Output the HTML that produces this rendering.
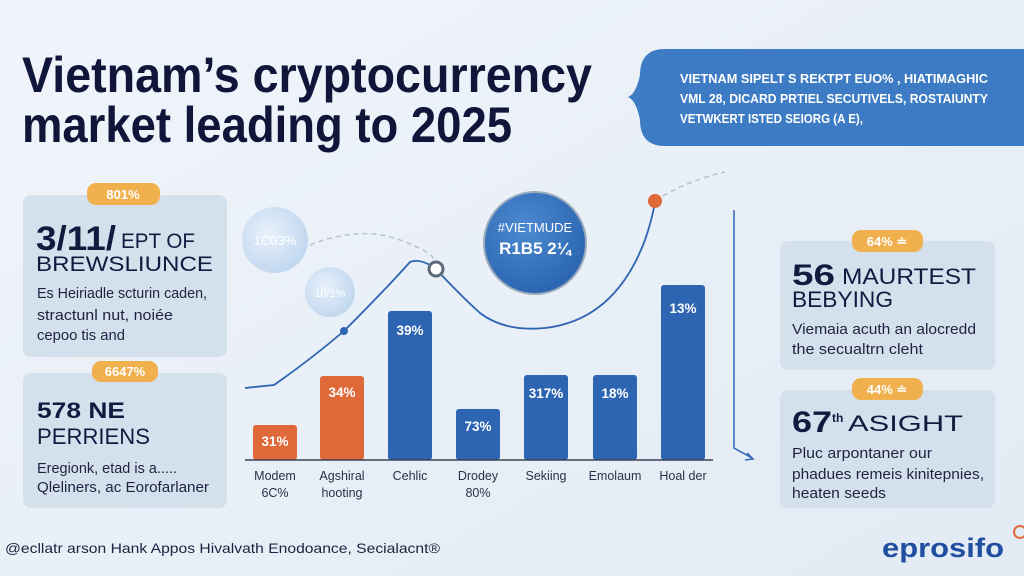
<!DOCTYPE html>
<html><head><meta charset="utf-8"><style>
html,body{margin:0;padding:0;width:1024px;height:576px;overflow:hidden;background:#e9f0f8}
svg{display:block}
text{font-family:"Liberation Sans",sans-serif}
</style></head><body>
<svg width="1024" height="576" viewBox="0 0 1024 576" xmlns="http://www.w3.org/2000/svg">
<defs>
<linearGradient id="bg" x1="0" y1="0" x2="1" y2="1"><stop offset="0" stop-color="#f1f5fb"/><stop offset="1" stop-color="#e2eaf4"/></linearGradient>
<radialGradient id="bub" cx="0.4" cy="0.4" r="0.7"><stop offset="0" stop-color="#e8f1fb"/><stop offset="1" stop-color="#bcd4ee"/></radialGradient>
<radialGradient id="bc" cx="0.4" cy="0.35" r="0.7"><stop offset="0" stop-color="#4d8ad0"/><stop offset="1" stop-color="#2a64b0"/></radialGradient>
</defs>
<rect width="1024" height="576" fill="url(#bg)"/>
<!-- Title -->
<text x="22" y="92" font-size="50" font-weight="bold" fill="#10163a" textLength="570" lengthAdjust="spacingAndGlyphs">Vietnam’s cryptocurrency</text>
<text x="22" y="142" font-size="50" font-weight="bold" fill="#10163a" textLength="490" lengthAdjust="spacingAndGlyphs">market leading to 2025</text>
<!-- Banner -->
<path d="M665 49 H1024 V146 H665 Q640 146 640 120 Q636 100 628 97 Q636 94 640 75 Q640 49 665 49 Z" fill="#3d7cc4"/>
<g font-size="12.5" font-weight="bold" fill="#fff">
<text x="680" y="83" textLength="308" lengthAdjust="spacingAndGlyphs">VIETNAM  SIPELT S REKTPT EUO% , HIATIMAGHIC</text>
<text x="680" y="103" textLength="308" lengthAdjust="spacingAndGlyphs">VML 28, DICARD  PRTIEL SECUTIVELS, ROSTAIUNTY</text>
<text x="680" y="123" textLength="183" lengthAdjust="spacingAndGlyphs">VETWKERT ISTED SEIORG (A E),</text>
</g>
<!-- Left card 1 -->
<rect x="23" y="195" width="204" height="162" rx="8" fill="#d5e0ed"/>
<rect x="87" y="183" width="73" height="22" rx="9" fill="#f0b04e"/>
<text x="123" y="199" font-size="13" font-weight="bold" fill="#fff" text-anchor="middle">801%</text>
<text x="36" y="250" font-size="34" font-weight="bold" fill="#131a40" textLength="80" lengthAdjust="spacingAndGlyphs">3/11/</text>
<text x="121" y="248" font-size="21" fill="#131a40" textLength="74" lengthAdjust="spacingAndGlyphs">EPT OF</text>
<text x="36" y="271" font-size="21" fill="#131a40" textLength="177" lengthAdjust="spacingAndGlyphs">BREWSLIUNCE</text>
<g font-size="14.5" fill="#1d2340">
<text x="37" y="298" textLength="170" lengthAdjust="spacingAndGlyphs">Es Heiriadle scturin caden,</text>
<text x="37" y="320" textLength="136" lengthAdjust="spacingAndGlyphs">stractunl nut, noiée</text>
<text x="37" y="340" textLength="88" lengthAdjust="spacingAndGlyphs">cepoo tis and</text>
</g>
<!-- Left card 2 -->
<rect x="23" y="373" width="204" height="135" rx="8" fill="#d5e0ed"/>
<rect x="92" y="361" width="66" height="21" rx="9" fill="#f0b04e"/>
<text x="125" y="376" font-size="13" font-weight="bold" fill="#fff" text-anchor="middle">6647%</text>
<text x="37" y="418" font-size="22" font-weight="bold" fill="#131a40" textLength="88" lengthAdjust="spacingAndGlyphs">578 NE</text>
<text x="37" y="444" font-size="22" fill="#131a40" textLength="113" lengthAdjust="spacingAndGlyphs">PERRIENS</text>
<g font-size="14.5" fill="#1d2340">
<text x="37" y="473" textLength="140" lengthAdjust="spacingAndGlyphs">Eregionk, etad is a.....</text>
<text x="37" y="492" textLength="172" lengthAdjust="spacingAndGlyphs">Qleliners, ac Eorofarlaner</text>
</g>
<!-- bubbles -->
<circle cx="275" cy="240" r="33" fill="url(#bub)"/>
<text x="275" y="245" font-size="13" fill="#fff" text-anchor="middle">1C03%</text>
<circle cx="330" cy="292" r="25" fill="url(#bub)"/>
<text x="330" y="297" font-size="11" fill="#fff" text-anchor="middle">10/1%</text>
<path d="M310 245 Q360 225 400 240 T432 262" fill="none" stroke="#b5c3d4" stroke-width="1.5" stroke-dasharray="5 4"/>
<!-- big circle -->
<circle cx="535" cy="243" r="52" fill="#9aa9bb"/>
<circle cx="535" cy="243" r="50" fill="url(#bc)"/>
<text x="535" y="232" font-size="13" fill="#fff" text-anchor="middle">#VIETMUDE</text>
<text x="535" y="254" font-size="17" font-weight="bold" fill="#fff" text-anchor="middle">R1B5 2¼</text>
<!-- bars -->
<g>
<rect x="253" y="425" width="44" height="35" rx="3" fill="#e0693a"/>
<rect x="320" y="376" width="44" height="84" rx="3" fill="#e0693a"/>
<rect x="388" y="311" width="44" height="149" rx="3" fill="#2e65b3"/>
<rect x="456" y="409" width="44" height="51" rx="3" fill="#2e65b3"/>
<rect x="524" y="375" width="44" height="85" rx="3" fill="#2e65b3"/>
<rect x="593" y="375" width="44" height="85" rx="3" fill="#2e65b3"/>
<rect x="661" y="285" width="44" height="175" rx="3" fill="#2e65b3"/>
</g>
<g font-size="13.5" font-weight="bold" fill="#fff" text-anchor="middle">
<text x="275" y="446">31%</text><text x="342" y="397">34%</text><text x="410" y="335">39%</text>
<text x="478" y="431">73%</text><text x="546" y="398">317%</text><text x="615" y="398">18%</text><text x="683" y="313">13%</text>
</g>
<line x1="245" y1="460" x2="713" y2="460" stroke="#3a4252" stroke-width="1.5"/>
<g font-size="12.5" fill="#2a3048" text-anchor="middle">
<text x="275" y="480">Modem</text><text x="275" y="497">6C%</text>
<text x="342" y="480">Agshiral</text><text x="342" y="497">hooting</text>
<text x="410" y="480">Cehlic</text>
<text x="478" y="480">Drodey</text><text x="478" y="497">80%</text>
<text x="546" y="480">Sekiing</text>
<text x="615" y="480">Emolaum</text>
<text x="683" y="480">Hoal der</text>
</g>
<!-- line -->
<path d="M245 388 L274 385 Q310 360 344 331 Q385 290 410 262 Q420 258 435 268 Q460 295 480 313 Q505 332 545 328 Q615 320 645 240 Q652 220 655 202" fill="none" stroke="#2e65b3" stroke-width="1.8"/>
<circle cx="344" cy="331" r="4" fill="#2e65b3"/>
<circle cx="436" cy="269" r="7" fill="#fff" stroke="#5d6a7c" stroke-width="3"/>
<circle cx="655" cy="201" r="7" fill="#e0693a"/>
<path d="M663 196 Q690 180 725 172" fill="none" stroke="#b5c3d4" stroke-width="1.5" stroke-dasharray="5 4"/>
<path d="M734 210 V448 L752 458" fill="none" stroke="#2e65b3" stroke-width="1.5"/>
<path d="M747 453 L753 459 L745 460" fill="none" stroke="#2e65b3" stroke-width="1.5"/>
<!-- right card 1 -->
<rect x="780" y="241" width="215" height="129" rx="8" fill="#d5e0ed"/>
<rect x="852" y="230" width="71" height="22" rx="9" fill="#f0b04e"/>
<text x="887" y="246" font-size="13" font-weight="bold" fill="#fff" text-anchor="middle">64% ≐</text>
<text x="792" y="285" font-size="30" font-weight="bold" fill="#131a40" textLength="43" lengthAdjust="spacingAndGlyphs">56</text>
<text x="842" y="284" font-size="22" fill="#131a40" textLength="134" lengthAdjust="spacingAndGlyphs">MAURTEST</text>
<text x="792" y="307" font-size="22" fill="#131a40" textLength="101" lengthAdjust="spacingAndGlyphs">BEBYING</text>
<g font-size="14.5" fill="#1d2340">
<text x="792" y="334" textLength="184" lengthAdjust="spacingAndGlyphs">Viemaia acuth an alocredd</text>
<text x="792" y="354" textLength="131" lengthAdjust="spacingAndGlyphs">the secualtrn cleht</text>
</g>
<!-- right card 2 -->
<rect x="780" y="390" width="215" height="118" rx="8" fill="#d5e0ed"/>
<rect x="852" y="378" width="71" height="22" rx="9" fill="#f0b04e"/>
<text x="887" y="394" font-size="13" font-weight="bold" fill="#fff" text-anchor="middle">44% ≐</text>
<text x="792" y="432" font-size="30" font-weight="bold" fill="#131a40" textLength="40" lengthAdjust="spacingAndGlyphs">67</text>
<text x="832" y="422" font-size="12" font-weight="bold" fill="#131a40">th</text>
<text x="848" y="431" font-size="22" fill="#131a40" textLength="115" lengthAdjust="spacingAndGlyphs">ASIGHT</text>
<g font-size="14.5" fill="#1d2340">
<text x="792" y="458" textLength="140" lengthAdjust="spacingAndGlyphs">Pluc arpontaner our</text>
<text x="792" y="479" textLength="192" lengthAdjust="spacingAndGlyphs">phadues remeis kinitepnies,</text>
<text x="792" y="498" textLength="94" lengthAdjust="spacingAndGlyphs">heaten seeds</text>
</g>
<!-- footer -->
<text x="5" y="553" font-size="14" fill="#1d2340" textLength="435" lengthAdjust="spacingAndGlyphs">@ecllatr arson Hank Appos Hivalvath Enodoance, Secialacnt®</text>
<text x="882" y="557" font-size="27" font-weight="bold" fill="#1f4f9e" textLength="122" lengthAdjust="spacingAndGlyphs">eprosifo</text>
<circle cx="1020" cy="532" r="6" fill="none" stroke="#e0693a" stroke-width="2"/>
</svg>
</body></html>
